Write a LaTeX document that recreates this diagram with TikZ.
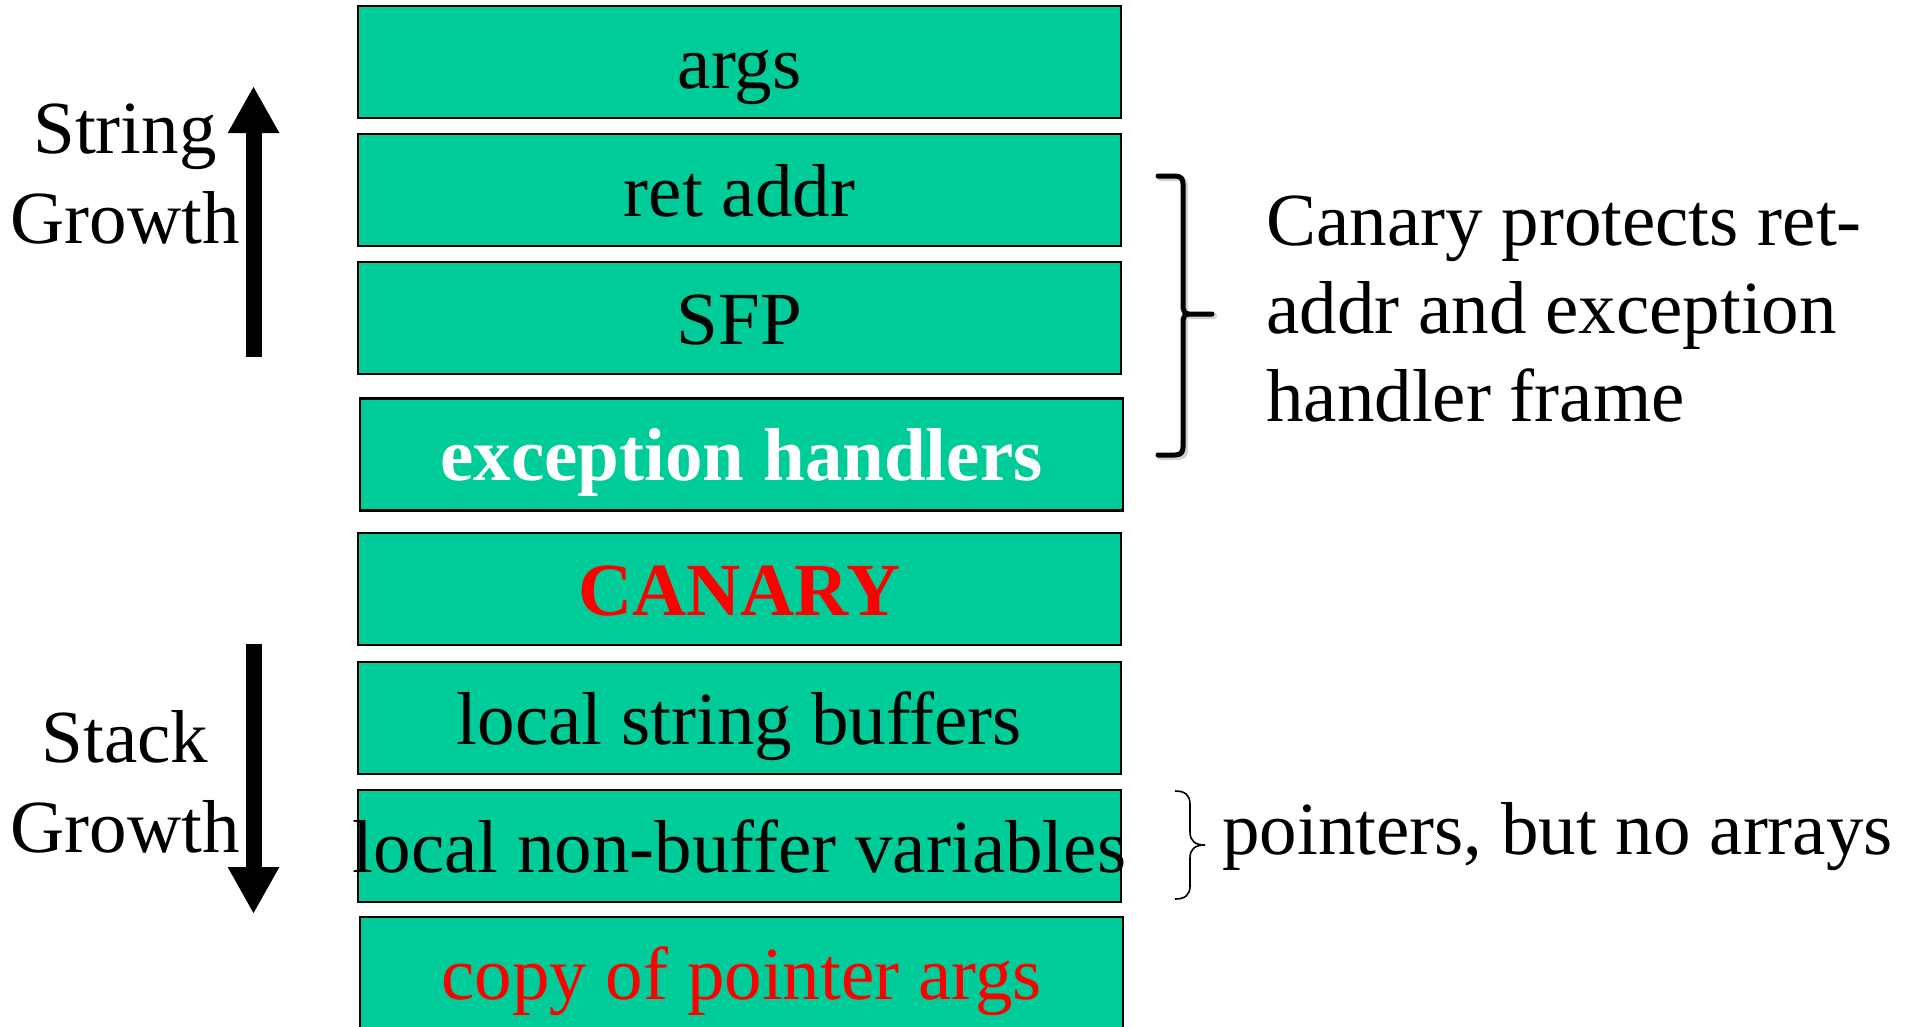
\documentclass[tikz,border=0pt]{standalone}
\usepackage{fontspec}
\setmainfont{Liberation Serif}
\usetikzlibrary{arrows.meta}
\definecolor{stackgreen}{HTML}{00CC99}
\definecolor{alertred}{HTML}{FF0000}
\begin{document}
\begin{tikzpicture}[x=1pt,y=-1pt,
  frame/.style={draw=black,line width=2.5pt,fill=stackgreen,inner sep=0pt,
    minimum width=763pt,minimum height=112pt,text height=52pt,text depth=0pt,
    font=\fontsize{75}{90}\selectfont},
  label/.style={inner sep=0pt,font=\fontsize{75}{90}\selectfont},
  growth/.style={line width=16pt,-{Triangle[width=48pt,length=47pt]}},
  bracket/.style={line width=5pt,line cap=round,line join=round},
]
\useasboundingbox (0,0) rectangle (1908,1026);

% stack frame slots, top to bottom
\node[frame] (args)  at (739.5,62)  {args};
\node[frame] (ret)   at (739.5,190) {ret addr};
\node[frame] (sfp)   at (739.5,318) {SFP};
\node[frame,font=\fontsize{75}{90}\selectfont\bfseries,text=white] (exc) at (741.5,454.5) {exception handlers};
\node[frame,font=\fontsize{75}{90}\selectfont\bfseries,text=alertred] (canary) at (739.5,589) {CANARY};
\node[frame] (lsb)   at (739.5,718) {local string buffers};
\node[frame] (lnb)   at (739.5,846) {\makebox[0pt]{local non-buffer variables}};
\node[frame,text=alertred] (cpa) at (741.5,973) {copy of pointer args};

% growth directions (labels anchored on their last line)
\coordinate (upfrom) at (253.5,357);
\coordinate (upto)   at (253.5,86);
\draw[growth] (upfrom) -- (upto);
\node[label,align=center,anchor=base] (strgrow) at (125,243) {String\\Growth};

\coordinate (downfrom) at (253.5,644);
\coordinate (downto)   at (253.5,914);
\draw[growth] (downfrom) -- (downto);
\node[label,align=center,anchor=base] (stkgrow) at (125,852) {Stack\\Growth};

% bracket over ret addr .. exception handlers, with a soft shadow
\draw[bracket,black!35,opacity=0.5,line width=6pt]
  (1160,178) -- (1177,178) .. controls (1183,178) and (1185,181) .. (1185,186)
  -- (1185,310) .. controls (1185,313) and (1187,316) .. (1191,316) -- (1214,316)
  (1185,320) -- (1185,450) .. controls (1185,455) and (1183,457) .. (1177,457) -- (1160,457);
\draw[bracket]
  (1158,176) -- (1175,176) .. controls (1181,176) and (1183,179) .. (1183,184)
  -- (1183,308) .. controls (1183,311) and (1185,314) .. (1189,314) -- (1212,314)
  (1189,314) .. controls (1185,314) and (1183,317) .. (1183,320)
  -- (1183,447) .. controls (1183,452) and (1181,455) .. (1175,455) -- (1158,455);
\node[label,align=left,anchor=base west,font=\fontsize{75}{88}\selectfont] (canarynote) at (1266,421)
  {Canary protects ret-\\addr and exception\\handler frame};

% thin brace beside the local non-buffer variables
\draw[line width=1.6pt]
  (1175,791) .. controls (1185,791) and (1190,795) .. (1190,804)
  -- (1190,832) .. controls (1190,841) and (1195,845) .. (1205,845)
  .. controls (1195,845) and (1190,849) .. (1190,858)
  -- (1190,886) .. controls (1190,895) and (1185,899) .. (1175,899);
\node[label,anchor=base west] (ptrnote) at (1222,854) {pointers, but no arrays};
\end{tikzpicture}
\end{document}
